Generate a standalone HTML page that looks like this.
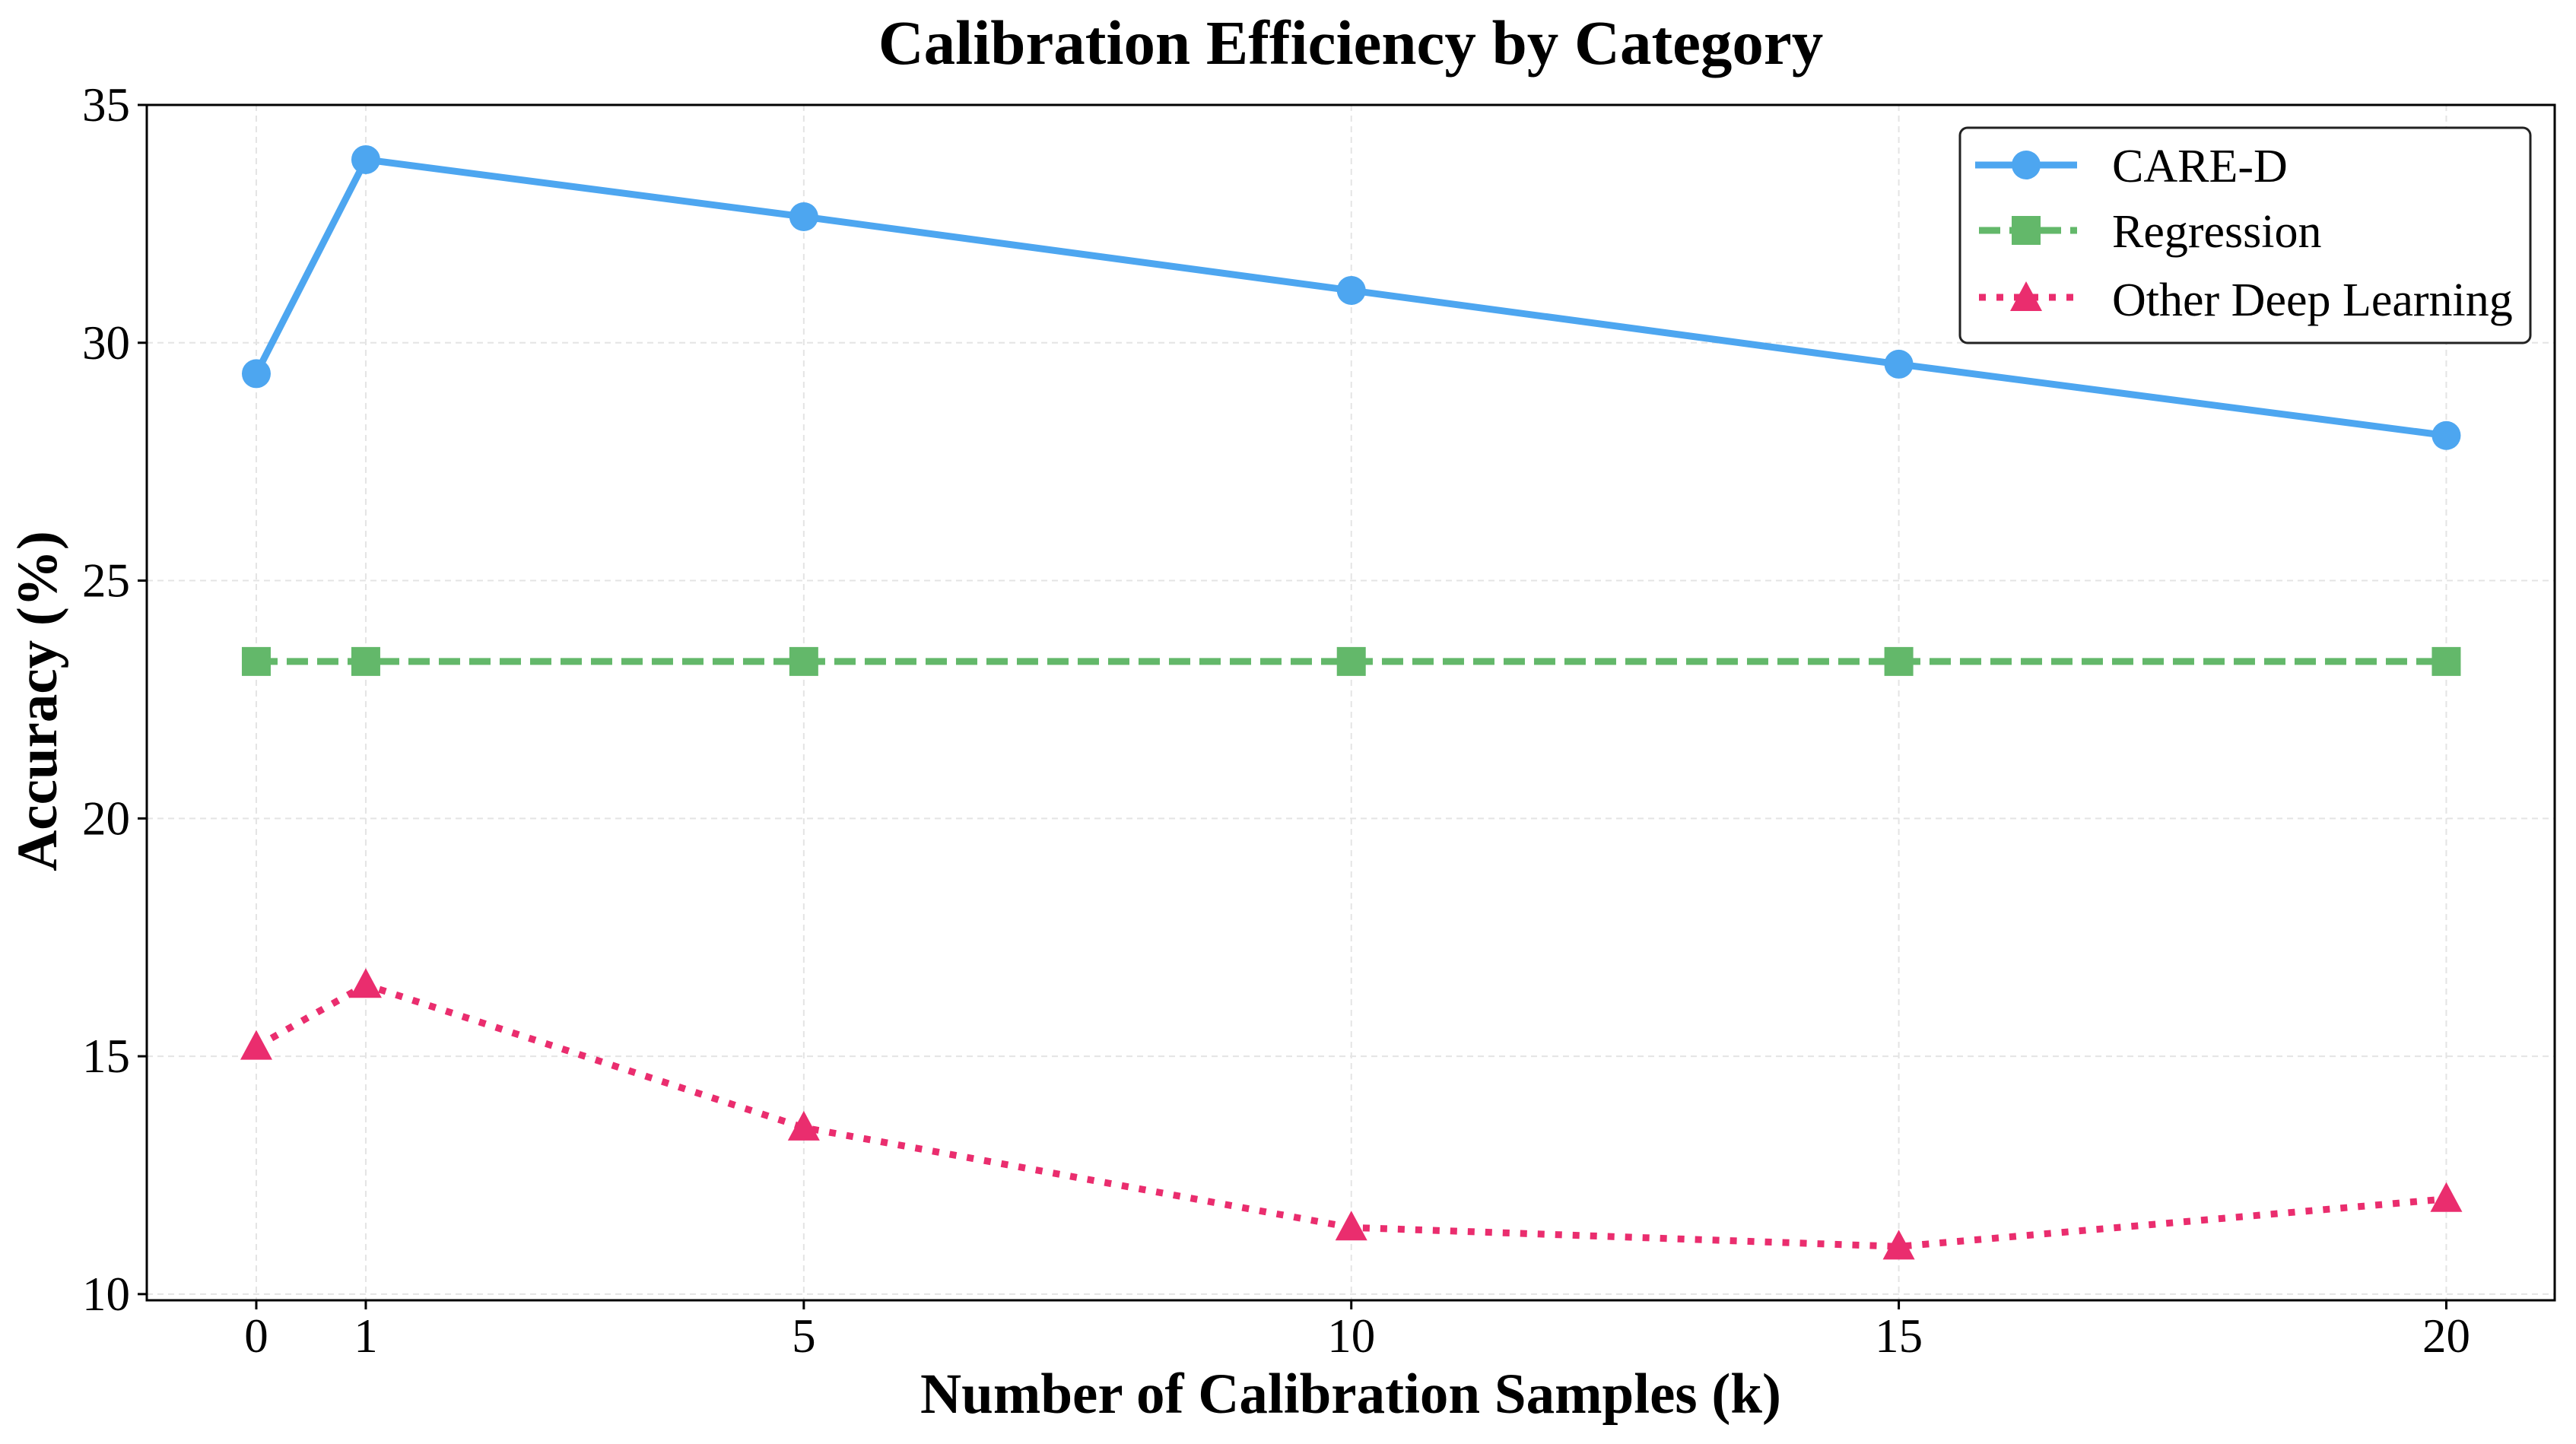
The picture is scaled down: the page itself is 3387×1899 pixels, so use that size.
<!DOCTYPE html>
<html><head><meta charset="utf-8"><style>
html,body{margin:0;padding:0;background:#fff}
svg text{font-family:"Liberation Serif",serif;fill:#000}
</style></head><body>
<svg id="chart" width="3387" height="1894" viewBox="0 0 3387 1894" xmlns="http://www.w3.org/2000/svg">
<rect width="3387" height="1894" fill="#fff"/>
<text x="1776" y="84" text-anchor="middle" font-size="83" font-weight="bold">Calibration Efficiency by Category</text>
<g id="grid"></g>
<g id="series"></g>
<rect x="193" y="138" width="3166" height="1572" fill="none" stroke="#000" stroke-width="3"/>
<g id="axes"></g>
<text x="1776" y="1858" text-anchor="middle" font-size="75" font-weight="bold">Number of Calibration Samples (k)</text>
<text transform="translate(74,922) rotate(-90)" text-anchor="middle" font-size="75" font-weight="bold">Accuracy (%)</text>
<g>
<rect x="2577" y="168" width="750" height="283" rx="10" fill="#fff" stroke="#222" stroke-width="3"/>
<line x1="2597" y1="217" x2="2731" y2="217" stroke="#4da6f0" stroke-width="9"/>
<circle cx="2664" cy="217" r="19" fill="#4da6f0"/>
<text x="2777" y="239" font-size="62">CARE-D</text>
<line x1="2602" y1="303" x2="2731" y2="303" stroke="#63b86a" stroke-width="9" stroke-dasharray="28,12"/>
<rect x="2645" y="284" width="38" height="38" fill="#63b86a"/>
<text x="2777" y="325" font-size="62">Regression</text>
<line x1="2602" y1="391" x2="2731" y2="391" stroke="#ea2d6e" stroke-width="9" stroke-dasharray="9,14"/>
<path d="M2664 370 L2685 409 L2643 409 Z" fill="#ea2d6e"/>
<text x="2777" y="415" font-size="62">Other Deep Learning</text>
</g>
</svg>
<script>
const xValues = [0, 1, 5, 10, 15, 20];
const careD = [29.35, 33.85, 32.65, 31.1, 29.55, 28.05];
const regression = [23.3, 23.3, 23.3, 23.3, 23.3, 23.3];
const otherDL = [15.2, 16.5, 13.5, 11.4, 11.0, 12.0];
const yTicks = [10, 15, 20, 25, 30, 35];
const xTicks = [0, 1, 5, 10, 15, 20];

const NS = "http://www.w3.org/2000/svg";
const L = 193, R = 3359, T = 138, B = 1710;
const X0 = -1, X1 = 20.99, Y0 = 9.87, Y1 = 35;
const sx = v => L + (v - X0) / (X1 - X0) * (R - L);
const sy = v => B - (v - Y0) / (Y1 - Y0) * (B - T);
function mk(tag, attrs, parent) {
  const e = document.createElementNS(NS, tag);
  for (const k in attrs) e.setAttribute(k, attrs[k]);
  parent.appendChild(e);
  return e;
}
const grid = document.getElementById('grid');
const axes = document.getElementById('axes');
const ser = document.getElementById('series');

yTicks.forEach(v => {
  const y = sy(v);
  const g = mk('line', {x1: L, x2: R, y1: y, y2: y, stroke: '#e4e4e4', 'stroke-width': 2, 'stroke-dasharray': '8,6'}, grid);
  
  
  const t = mk('line', {x1: L - 12, x2: L, y1: y, y2: y, stroke: '#000', 'stroke-width': 3}, axes);
  
  
  const lb = mk('text', {x: L - 22, y: y + 21, 'text-anchor': 'end', 'font-size': 63}, axes);
  lb.textContent = v;
  
  
});
xTicks.forEach(v => {
  const x = sx(v);
  const g = mk('line', {x1: x, x2: x, y1: T, y2: B, stroke: '#e4e4e4', 'stroke-width': 2, 'stroke-dasharray': '8,6'}, grid);
  
  
  const t = mk('line', {x1: x, x2: x, y1: B, y2: B + 12, stroke: '#000', 'stroke-width': 3}, axes);
  
  
  const lb = mk('text', {x: x, y: 1778, 'text-anchor': 'middle', 'font-size': 63}, axes);
  lb.textContent = v;
  
  
});

function drawSeries(vals, color, dash, marker, name) {
  const pts = vals.map((v, i) => sx(xValues[i]) + ',' + sy(v)).join(' ');
  const pl = mk('polyline', {points: pts, fill: 'none', stroke: color, 'stroke-width': 9, 'stroke-dasharray': dash, 'stroke-linejoin': 'round'}, ser);
  
  
  vals.forEach((v, i) => {
    const x = sx(xValues[i]), y = sy(v);
    let m;
    if (marker === 'circle') m = mk('circle', {cx: x, cy: y, r: 19, fill: color}, ser);
    else if (marker === 'square') m = mk('rect', {x: x - 19, y: y - 19, width: 38, height: 38, fill: color}, ser);
    else m = mk('path', {d: `M${x} ${y - 22} L${x + 21} ${y + 17} L${x - 21} ${y + 17} Z`, fill: color}, ser);
    
    
  });
}
drawSeries(careD, '#4da6f0', 'none', 'circle', 'care-d');
drawSeries(regression, '#63b86a', '28,12', 'square', 'regression');
drawSeries(otherDL, '#ea2d6e', '9,14', 'triangle', 'other-deep-learning');
</script>
</body></html>
